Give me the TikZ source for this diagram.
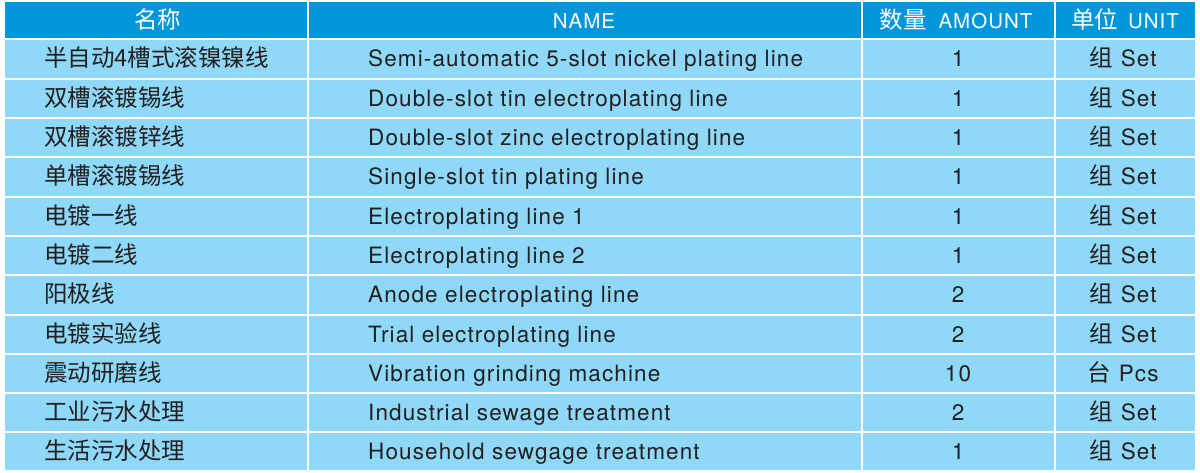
\documentclass[tikz,border=0pt]{standalone}
\usepackage{fontspec}
\setmainfont[LetterSpace=5]{TeX Gyre Heros}
\newfontfamily\cjk{Noto Sans CJK SC}
\newcommand{\zh}[1]{{\cjk\fontsize{23.5bp}{28bp}\selectfont #1}}
\definecolor{hdr}{HTML}{0096DA}
\definecolor{rowc}{HTML}{8FD8F7}
\definecolor{txt}{HTML}{231F20}
\tikzset{
  hdrtext/.style={inner sep=0pt, font=\fontsize{20.5bp}{26bp}\selectfont, text=white, anchor=base},
  lefttext/.style={inner sep=0pt, font=\fontsize{22.5bp}{26bp}\selectfont, text=txt, anchor=base west},
  midtext/.style={inner sep=0pt, font=\fontsize{22.5bp}{26bp}\selectfont, text=txt, anchor=base},
  sepline/.style={white, line width=2bp}
}
\begin{document}
\begin{tikzpicture}[x=1bp,y=-1bp]
\useasboundingbox (0,0) rectangle (1200,473);
\fill[white] (0,0) rectangle (1200,473);
\fill[hdr] (5,2) rectangle (1195,39.5);
\fill[rowc] (5,39.5) rectangle (1195,470);
% separators
\foreach \k in {0,...,10} {
  \draw[sepline] (5,{39.5+\k*39.3}) -- (1195,{39.5+\k*39.3});
}
\foreach \x in {308,862,1055} {
  \draw[sepline] (\x,2) -- (\x,470);
}
% header
\node[hdrtext] (h1) at (157.5,28.5) {\zh{名称}};
\node[hdrtext] (h2) at (584,28.5) {NAME};
\node[hdrtext] (h3) at (956,28.5) {\zh{数量}\hspace{12bp}AMOUNT};
\node[hdrtext] (h4) at (1125,28.5) {\zh{单位}\hspace{10bp}UNIT};
% rows
\foreach \i/\cn/\en/\amt/\ucn/\uen in {
  1/半自动4槽式滚镍镍线/Semi-automatic 5-slot nickel plating line/1/组/Set,
  2/双槽滚镀锡线/Double-slot tin electroplating line/1/组/Set,
  3/双槽滚镀锌线/Double-slot zinc electroplating line/1/组/Set,
  4/单槽滚镀锡线/Single-slot tin plating line/1/组/Set,
  5/电镀一线/Electroplating line 1/1/组/Set,
  6/电镀二线/Electroplating line 2/1/组/Set,
  7/阳极线/Anode electroplating line/2/组/Set,
  8/电镀实验线/Trial electroplating line/2/组/Set,
  9/震动研磨线/Vibration grinding machine/10/台/Pcs,
  10/工业污水处理/Industrial sewage treatment/2/组/Set,
  11/生活污水处理/Household sewgage treatment/1/组/Set} {
  \pgfmathsetmacro{\yb}{39.5+(\i-1)*39.3+27.5}
  \node[lefttext] (a\i) at (44,\yb) {\zh{\cn}};
  \node[lefttext] (b\i) at (368,\yb) {\en};
  \node[midtext] (c\i) at (958,\yb) {\amt};
  \node[midtext] (d\i) at (1123,\yb) {\zh{\ucn}\hspace{8bp}\uen};
}
\end{tikzpicture}
\end{document}
